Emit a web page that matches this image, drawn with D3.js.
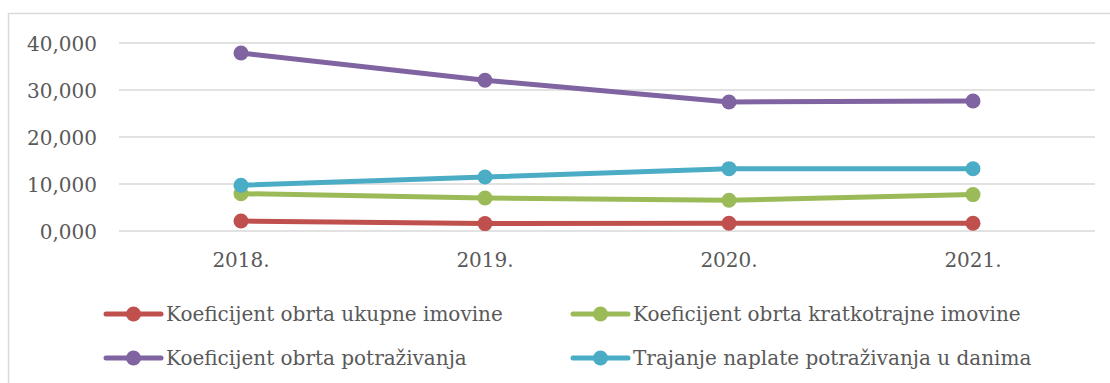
<!DOCTYPE html>
<html>
<head>
<meta charset="utf-8">
<script src="https://cdn.jsdelivr.net/npm/d3@7"></script>
<style>
  html, body { margin: 0; padding: 0; background: #fff; }
  svg { display: block; }
  text { font-family: "DejaVu Serif", "Liberation Serif", serif; fill: #595959; }
</style>
</head>
<body>
<svg id="chart" width="1110" height="383"></svg>
<script>
const years = ["2018.", "2019.", "2020.", "2021."];
const yTicks = [0, 10000, 20000, 30000, 40000];

const ukupneImovine     = [2.13, 1.57, 1.64, 1.64];
const kratkotrajneImov  = [7.95, 7.02, 6.53, 7.74];
const potrazivanja      = [37.87, 32.06, 27.45, 27.66];
const trajanjeNaplate   = [9.72, 11.49, 13.27, 13.25];

const seriesNames = [
  "Koeficijent obrta ukupne imovine",
  "Koeficijent obrta kratkotrajne imovine",
  "Koeficijent obrta potraživanja",
  "Trajanje naplate potraživanja u danima"
];
const seriesColors = ["#C0504D", "#9BBB59", "#8064A2", "#4BACC6"];
const seriesValues = [ukupneImovine, kratkotrajneImov, potrazivanja, trajanjeNaplate];

const series = seriesNames.map((name, i) => ({ name, color: seriesColors[i], values: seriesValues[i] }));

const svg = d3.select("#chart");
const W = 1110, H = 383;
const plot = { left: 119, right: 1095, top: 43, bottom: 231 };
const fontSize = 20;

// outer chart frame
svg.append("rect")
  .attr("x", 8.5).attr("y", 13.5)
  .attr("width", W + 20).attr("height", H + 20)
  .attr("fill", "#fff").attr("stroke", "#D9D9D9").attr("stroke-width", 1.5);

const x = d3.scaleBand().domain(years).range([plot.left, plot.right]).padding(0);
const y = d3.scaleLinear().domain([0, 40]).range([plot.bottom, plot.top]);

// horizontal gridlines
svg.append("g").selectAll("line").data(yTicks).join("line")
  .attr("x1", plot.left).attr("x2", plot.right)
  .attr("y1", d => y(d / 1000)).attr("y2", d => y(d / 1000))
  .attr("stroke", "#D9D9D9").attr("stroke-width", 1.5);

// y axis labels, values in thousands shown as "10,000"
const yAxis = d3.axisLeft(y).tickValues(yTicks.map(d => d / 1000))
  .tickSize(0).tickPadding(0)
  .tickFormat(v => d3.format(".3f")(v).replace(".", ","));
const yg = svg.append("g").attr("transform", `translate(97,0)`).call(yAxis);
yg.select(".domain").remove();
yg.selectAll("text")
  .attr("font-size", fontSize).attr("font-family", null).attr("fill", "#595959")
  .attr("dy", "0.35em");

// x axis labels
const xAxis = d3.axisBottom(x).tickSize(0).tickPadding(0);
const xg = svg.append("g").attr("transform", `translate(0,${plot.bottom})`).call(xAxis);
xg.select(".domain").remove();
xg.selectAll("text")
  .attr("font-size", fontSize).attr("font-family", null).attr("fill", "#595959")
  .attr("y", 36).attr("dy", 0);

const cx = d => x(d) + x.bandwidth() / 2;
const line = d3.line().x((d, i) => cx(years[i])).y(d => y(d));

const sg = svg.append("g").selectAll("g").data(series).join("g");
sg.append("path")
  .attr("d", d => line(d.values))
  .attr("fill", "none").attr("stroke", d => d.color)
  .attr("stroke-width", 5).attr("stroke-linejoin", "round").attr("stroke-linecap", "round");
sg.selectAll("circle").data(d => d.values.map((v, i) => ({ v, i, color: d.color }))).join("circle")
  .attr("cx", d => cx(years[d.i])).attr("cy", d => y(d.v))
  .attr("r", 7.5).attr("fill", d => d.color);

// legend: two columns, two rows
const legendPos = [
  { lx: 106, ly: 314 }, { lx: 573, ly: 314 },
  { lx: 106, ly: 358 }, { lx: 573, ly: 358 }
];
const lg = svg.append("g").selectAll("g").data(series).join("g")
  .attr("transform", (d, i) => `translate(${legendPos[i].lx},${legendPos[i].ly})`);
lg.append("line").attr("x1", 0).attr("x2", 55).attr("y1", 0).attr("y2", 0)
  .attr("stroke", d => d.color).attr("stroke-width", 5).attr("stroke-linecap", "round");
lg.append("circle").attr("cx", 27.5).attr("cy", 0).attr("r", 7.5).attr("fill", d => d.color);
lg.append("text").attr("x", 60).attr("y", 0).attr("dy", "0.35em")
  .attr("font-size", fontSize).text(d => d.name);
</script>
</body>
</html>
